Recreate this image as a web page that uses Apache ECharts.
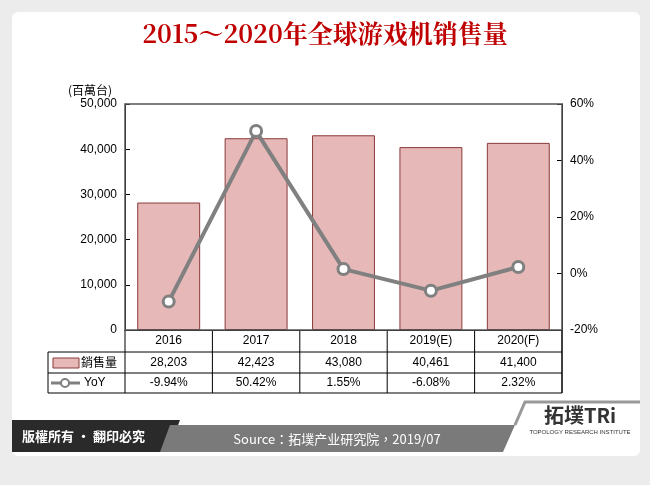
<!DOCTYPE html>
<html>
<head>
<meta charset="utf-8">
<script src="https://cdn.jsdelivr.net/npm/echarts@6/dist/echarts.min.js"></script>
<style>
html,body{margin:0;padding:0;background:#ececec;}
#canvasContainer{width:650px;height:485px;}
</style>
</head>
<body>
<div id="canvasContainer"></div>
<script>
var years = ['2016', '2017', '2018', '2019(E)', '2020(F)'];
var sales = [28203, 42423, 43080, 40461, 41400];
var yoy = [-9.94, 50.42, 1.55, -6.08, 2.32];
var salesText = ['28,203', '42,423', '43,080', '40,461', '41,400'];
var yoyText = ['-9.94%', '50.42%', '1.55%', '-6.08%', '2.32%'];

var chart = echarts.init(document.getElementById('canvasContainer'));
var gl = 125, gr = 562, gt = 104, gb = 330;
var colW = (gr - gl) / years.length;
var rows = [330, 352, 373, 393];
var font = '"Liberation Sans", Arial, sans-serif';
var cjk = '"Noto Sans CJK TC", sans-serif';

var g = [
    // card
    {type: 'rect', shape: {x: 12, y: 12, width: 628, height: 444, r: 6}, style: {fill: '#fff'}, z: -10},
    // plot frame
    {type: 'rect', shape: {x: gl, y: gt, width: gr - gl, height: gb - gt}, style: {fill: null, stroke: '#555', lineWidth: 1.5}, z: 10},
    // footer
    {type: 'polygon', shape: {points: [[12, 420], [180, 420], [168, 452], [12, 452]]}, style: {fill: '#2a2a2a'}, z: 5},
    {type: 'polygon', shape: {points: [[170, 425], [515, 425], [503, 452], [160, 452]]}, style: {fill: '#7a7a7a'}, z: 5},
    {type: 'polyline', shape: {points: [[515, 425], [525, 402], [640, 402]]}, style: {stroke: '#999', lineWidth: 3}, z: 5},
    {type: 'text', style: {x: 22, y: 436, text: '版權所有 · 翻印必究', fill: '#fff', font: 'bold 13px ' + cjk, textVerticalAlign: 'middle'}, z: 6},
    {type: 'text', style: {x: 337, y: 439, text: 'Source：拓墣产业研究院，2019/07', fill: '#fff', font: '13px ' + cjk, textAlign: 'center', textVerticalAlign: 'middle'}, z: 6},
    {type: 'text', style: {x: 580, y: 415, text: '拓墣TRi', fill: '#333', font: 'bold 20px ' + cjk, textAlign: 'center', textVerticalAlign: 'middle'}, z: 6},
    {type: 'text', style: {x: 580, y: 432, text: 'TOPOLOGY RESEARCH INSTITUTE', fill: '#333', font: '6px ' + font, textAlign: 'center', textVerticalAlign: 'middle'}, z: 6},
    // unit
    {type: 'text', style: {x: 68, y: 90, text: '(百萬台)', fill: '#000', font: '12px ' + cjk, textVerticalAlign: 'middle'}},
    // table frame
    {type: 'polyline', shape: {points: [[48, rows[1]], [48, rows[3]], [gr, rows[3]], [gr, rows[0]]]}, style: {stroke: '#000', fill: null, lineWidth: 1}},
    {type: 'line', shape: {x1: 48, y1: rows[1], x2: gr, y2: rows[1]}, style: {stroke: '#000'}},
    {type: 'line', shape: {x1: 48, y1: rows[2], x2: gr, y2: rows[2]}, style: {stroke: '#000'}},
    // legend keys
    {type: 'rect', shape: {x: 53, y: rows[1] + 6, width: 26, height: 10}, style: {fill: '#e6b8b8', stroke: '#8b3a3a'}},
    {type: 'text', style: {x: 81, y: (rows[1] + rows[2]) / 2, text: '銷售量', fill: '#000', font: '12px ' + cjk, textVerticalAlign: 'middle'}},
    {type: 'line', shape: {x1: 51, y1: (rows[2] + rows[3]) / 2, x2: 80, y2: (rows[2] + rows[3]) / 2}, style: {stroke: '#808080', lineWidth: 3}},
    {type: 'circle', shape: {cx: 65, cy: (rows[2] + rows[3]) / 2, r: 4}, style: {fill: '#fff', stroke: '#808080', lineWidth: 2}},
    {type: 'text', style: {x: 84, y: (rows[2] + rows[3]) / 2, text: 'YoY', fill: '#000', font: '12px ' + font, textVerticalAlign: 'middle'}}
];
for (var i = 0; i <= years.length; i++) {
    g.push({type: 'line', shape: {x1: gl + i * colW, y1: rows[0], x2: gl + i * colW, y2: rows[3]}, style: {stroke: '#000'}});
}
var rowTexts = [years, salesText, yoyText];
for (var r = 0; r < 3; r++) {
    for (var c = 0; c < years.length; c++) {
        g.push({type: 'text', style: {x: gl + (c + 0.5) * colW, y: (rows[r] + rows[r + 1]) / 2, text: rowTexts[r][c], fill: '#000', font: '12px ' + font, textAlign: 'center', textVerticalAlign: 'middle'}});
    }
}

var option = {
    backgroundColor: '#ececec',
    animation: false,
    title: {
        text: '2015～2020年全球游戏机销售量',
        left: 'center', top: 16,
        textStyle: {color: '#c00000', fontSize: 25, fontWeight: 'bold', fontFamily: '"Noto Serif CJK SC", "Noto Sans CJK SC", serif'}
    },
    grid: {left: gl, right: 650 - gr, top: gt, bottom: 485 - gb},
    xAxis: {
        type: 'category', data: years,
        axisLabel: {show: false}, axisTick: {show: false},
        axisLine: {lineStyle: {color: '#000'}}
    },
    yAxis: [{
        type: 'value', min: 0, max: 50000, interval: 10000,
        axisLine: {show: true, lineStyle: {color: '#000'}},
        axisTick: {show: true, inside: true},
        splitLine: {show: false},
        axisLabel: {color: '#000', fontSize: 12, fontFamily: font, formatter: function (v) { return v.toLocaleString('en-US'); }}
    }, {
        type: 'value', min: -20, max: 60, interval: 20,
        axisLine: {show: true, lineStyle: {color: '#000'}},
        axisTick: {show: true, inside: true},
        splitLine: {show: false},
        axisLabel: {color: '#000', fontSize: 12, fontFamily: font, formatter: '{value}%'}
    }],
    series: [{
        name: '銷售量', type: 'bar', data: sales, barWidth: '72%',
        itemStyle: {color: '#e6b8b8', borderColor: '#8b3a3a', borderWidth: 1}
    }, {
        name: 'YoY', type: 'line', yAxisIndex: 1, data: yoy,
        symbol: 'circle', symbolSize: 11,
        lineStyle: {color: '#808080', width: 4},
        itemStyle: {color: '#fff', borderColor: '#808080', borderWidth: 3}
    }],
    graphic: g
};
chart.setOption(option);
</script>
</body>
</html>
